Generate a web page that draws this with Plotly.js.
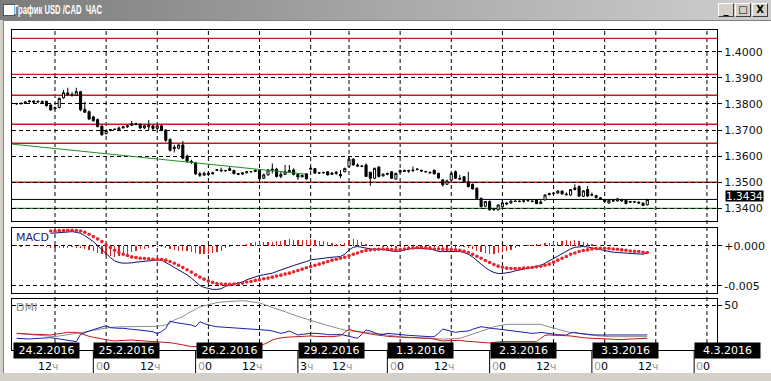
<!DOCTYPE html>
<html><head><meta charset="utf-8">
<script src="https://cdn.plot.ly/plotly-3.0.1.min.js"></script>
<style>
html,body{margin:0;padding:0;width:771px;height:381px;overflow:hidden;background:#d4d0c8;}
#tbar{position:absolute;left:0;top:0;width:771px;height:20px;background:linear-gradient(to right,#7c7c7c,#a8a8a8 50%,#cfcfcf);}
#icon{position:absolute;left:3px;top:4px;width:10px;height:10px;background:#fff;border:1px solid #556;}
.btn{position:absolute;top:3px;width:14px;height:12px;background:#d4d0c8;border:1px solid;border-color:#fff #404040 #404040 #fff;font:bold 10px 'DejaVu Sans';line-height:12px;text-align:center;color:#000;}
#client{position:absolute;left:3px;top:20px;width:767px;height:352px;background:#fff;border-left:1px solid #808080;border-top:1px solid #808080;}
#chart{position:absolute;left:0;top:0;width:771px;height:381px;}
</style></head>
<body>
<div id="tbar"><div id="icon"></div>
<div class="btn" style="left:718px">_</div><div class="btn" style="left:735px">□</div><div class="btn" style="left:752px">X</div></div>
<div id="client"></div>
<div id="chart"></div>
<script>
// ---- data ----
const firstBar = -9; // bar index of the first candle (index 0 = 24.2 12:00)
const open = [1.3800,1.3801,1.3802,1.3808,1.3811,1.3807,1.3810,1.3810,1.3796,1.3781,
1.3786,1.3823,1.3842,1.3836,1.3833,1.3847,1.3779,1.3770,1.3750,1.3740,
1.3715,1.3686,1.3698,1.3702,1.3701,1.3708,1.3712,1.3718,1.3724,1.3722,
1.3708,1.3712,1.3716,1.3706,1.3716,1.3700,1.3664,1.3628,1.3630,1.3643,
1.3600,1.3580,1.3574,1.3532,1.3527,1.3534,1.3532,1.3545,1.3546,1.3544,
1.3545,1.3545,1.3533,1.3531,1.3536,1.3540,1.3541,1.3546,1.3515,1.3528,
1.3545,1.3550,1.3522,1.3530,1.3540,1.3547,1.3530,1.3520,1.3532,1.3550,
1.3552,1.3535,1.3536,1.3540,1.3530,1.3534,1.3530,1.3540,1.3560,1.3588,
1.3566,1.3562,1.3566,1.3538,1.3515,1.3558,1.3524,1.3530,1.3540,1.3512,
1.3538,1.3545,1.3542,1.3544,1.3548,1.3546,1.3541,1.3538,1.3546,1.3534,
1.3509,1.3492,1.3508,1.3540,1.3515,1.3521,1.3502,1.3492,1.3477,1.3438,
1.3408,1.3426,1.3398,1.3394,1.3406,1.3416,1.3420,1.3428,1.3426,1.3427,
1.3429,1.3428,1.3432,1.3418,1.3432,1.3452,1.3456,1.3458,1.3466,1.3455,
1.3451,1.3472,1.3483,1.3446,1.3472,1.3450,1.3448,1.3440,1.3434,1.3420,
1.3430,1.3428,1.3434,1.3431,1.3423,1.3425,1.3424,1.3420,1.3413];
const high = [1.3804,1.3806,1.3810,1.3815,1.3813,1.3812,1.3812,1.3812,1.3798,1.3790,
1.3825,1.3853,1.3862,1.3845,1.3862,1.3850,1.3808,1.3775,1.3755,1.3744,
1.3718,1.3700,1.3704,1.3705,1.3713,1.3716,1.3720,1.3735,1.3728,1.3726,
1.3720,1.3738,1.3718,1.3722,1.3720,1.3703,1.3668,1.3643,1.3645,1.3658,
1.3606,1.3586,1.3578,1.3540,1.3540,1.3542,1.3540,1.3550,1.3556,1.3547,
1.3560,1.3548,1.3535,1.3538,1.3543,1.3543,1.3548,1.3549,1.3534,1.3550,
1.3572,1.3555,1.3540,1.3566,1.3566,1.3553,1.3534,1.3530,1.3534,1.3560,
1.3554,1.3538,1.3540,1.3542,1.3538,1.3542,1.3547,1.3555,1.3598,1.3592,
1.3572,1.3566,1.3572,1.3540,1.3556,1.3562,1.3534,1.3537,1.3543,1.3536,
1.3548,1.3548,1.3548,1.3560,1.3553,1.3547,1.3543,1.3540,1.3548,1.3536,
1.3512,1.3510,1.3538,1.3545,1.3528,1.3524,1.3540,1.3495,1.3480,1.3441,
1.3428,1.3430,1.3402,1.3414,1.3432,1.3422,1.3430,1.3431,1.3430,1.3431,
1.3434,1.3430,1.3434,1.3434,1.3454,1.3460,1.3462,1.3470,1.3468,1.3461,
1.3474,1.3492,1.3489,1.3470,1.3485,1.3460,1.3452,1.3442,1.3436,1.3433,
1.3433,1.3440,1.3436,1.3433,1.3428,1.3428,1.3426,1.3422,1.3436];
const low = [1.3797,1.3797,1.3800,1.3805,1.3804,1.3803,1.3804,1.3790,1.3774,1.3778,
1.3783,1.3820,1.3832,1.3828,1.3830,1.3772,1.3766,1.3738,1.3732,1.3710,
1.3678,1.3683,1.3695,1.3700,1.3697,1.3706,1.3708,1.3715,1.3718,1.3703,
1.3704,1.3700,1.3700,1.3704,1.3695,1.3655,1.3618,1.3614,1.3626,1.3588,
1.3576,1.3570,1.3528,1.3520,1.3526,1.3523,1.3530,1.3544,1.3540,1.3540,
1.3544,1.3530,1.3527,1.3528,1.3534,1.3536,1.3538,1.3510,1.3512,1.3526,
1.3533,1.3518,1.3515,1.3528,1.3538,1.3526,1.3509,1.3520,1.3510,1.3545,
1.3532,1.3532,1.3532,1.3526,1.3527,1.3528,1.3515,1.3538,1.3556,1.3564,
1.3560,1.3558,1.3520,1.3486,1.3512,1.3518,1.3522,1.3527,1.3512,1.3510,
1.3536,1.3539,1.3536,1.3540,1.3546,1.3540,1.3538,1.3534,1.3530,1.3513,
1.3483,1.3490,1.3505,1.3512,1.3508,1.3500,1.3480,1.3472,1.3436,1.3404,
1.3404,1.3392,1.3390,1.3392,1.3404,1.3412,1.3418,1.3424,1.3423,1.3421,
1.3425,1.3424,1.3416,1.3416,1.3430,1.3450,1.3452,1.3456,1.3453,1.3450,
1.3449,1.3468,1.3443,1.3443,1.3443,1.3446,1.3438,1.3432,1.3423,1.3418,
1.3426,1.3426,1.3425,1.3416,1.3421,1.3421,1.3418,1.3409,1.3411];
const close = [1.3801,1.3802,1.3808,1.3811,1.3807,1.3810,1.3806,1.3793,1.3777,1.3786,
1.3821,1.3843,1.3836,1.3832,1.3847,1.3777,1.3768,1.3742,1.3735,1.3713,
1.3682,1.3698,1.3702,1.3703,1.3708,1.3712,1.3716,1.3724,1.3722,1.3708,
1.3716,1.3718,1.3706,1.3716,1.3698,1.3660,1.3622,1.3634,1.3643,1.3592,
1.3580,1.3576,1.3532,1.3527,1.3534,1.3530,1.3536,1.3548,1.3544,1.3545,
1.3552,1.3533,1.3530,1.3536,1.3540,1.3541,1.3546,1.3513,1.3528,1.3547,
1.3550,1.3522,1.3530,1.3540,1.3545,1.3530,1.3520,1.3526,1.3513,1.3553,
1.3535,1.3536,1.3537,1.3528,1.3535,1.3538,1.3525,1.3553,1.3588,1.3566,
1.3562,1.3561,1.3522,1.3515,1.3553,1.3522,1.3530,1.3533,1.3515,1.3534,
1.3545,1.3542,1.3544,1.3546,1.3550,1.3543,1.3540,1.3536,1.3532,1.3516,
1.3490,1.3505,1.3534,1.3515,1.3512,1.3502,1.3483,1.3474,1.3438,1.3406,
1.3426,1.3394,1.3396,1.3413,1.3421,1.3420,1.3428,1.3426,1.3427,1.3429,
1.3431,1.3426,1.3418,1.3424,1.3451,1.3456,1.3458,1.3466,1.3455,1.3452,
1.3472,1.3478,1.3447,1.3467,1.3447,1.3453,1.3441,1.3435,1.3426,1.3431,
1.3428,1.3436,1.3428,1.3418,1.3426,1.3424,1.3420,1.3411,1.3434];

const redLevels = [1.4051, 1.3913, 1.3833, 1.3722, 1.3649, 1.3500];
const lastPrice = 1.3434;
const greenLevel = 1.3400;
const trendX = [-10.1, 58.7];
const trendY = [1.3646, 1.3531];
const priceTicks = [1.34, 1.35, 1.36, 1.37, 1.38, 1.39, 1.40];

const macdFirstBar = -1;
const macd = [0.00158,0.00163,0.00167,0.00171,0.00175,0.00179,0.00171,0.00158,0.00129,0.00096,
0.00054,0.00004,-0.00050,-0.00104,-0.00146,-0.00188,-0.00208,-0.00217,-0.00217,-0.00213,
-0.00204,-0.00196,-0.00192,-0.00188,-0.00183,-0.00175,-0.00179,-0.00204,-0.00238,-0.00271,
-0.00300,-0.00329,-0.00363,-0.00404,-0.00454,-0.00496,-0.00521,-0.00538,-0.00546,-0.00546,
-0.00538,-0.00508,-0.00496,-0.00479,-0.00467,-0.00454,-0.00425,-0.00404,-0.00383,-0.00371,
-0.00363,-0.00354,-0.00342,-0.00321,-0.00300,-0.00279,-0.00258,-0.00246,-0.00229,-0.00217,
-0.00196,-0.00175,-0.00167,-0.00163,-0.00154,-0.00146,-0.00142,-0.00138,-0.00133,-0.00104,
-0.00050,-0.00017,-0.00008,-0.00017,-0.00029,-0.00038,-0.00042,-0.00038,-0.00046,-0.00054,
-0.00063,-0.00071,-0.00063,-0.00050,-0.00038,-0.00029,-0.00029,-0.00029,-0.00033,-0.00038,
-0.00050,-0.00071,-0.00071,-0.00071,-0.00071,-0.00071,-0.00071,-0.00083,-0.00104,-0.00138,
-0.00188,-0.00229,-0.00271,-0.00308,-0.00333,-0.00346,-0.00346,-0.00342,-0.00329,-0.00313,
-0.00300,-0.00288,-0.00279,-0.00271,-0.00263,-0.00246,-0.00217,-0.00188,-0.00154,-0.00125,
-0.00096,-0.00063,-0.00038,-0.00017,-0.00008,-0.00008,-0.00013,-0.00021,-0.00033,-0.00046,
-0.00058,-0.00071,-0.00079,-0.00083,-0.00088,-0.00088,-0.00092,-0.00096,-0.00100,-0.00104,-0.00088];
const signal = [0.00188,0.00188,0.00192,0.00192,0.00196,0.00196,0.00192,0.00188,0.00171,0.00146,
0.00117,0.00088,0.00054,0.00013,-0.00021,-0.00054,-0.00083,-0.00104,-0.00121,-0.00138,
-0.00146,-0.00154,-0.00158,-0.00163,-0.00167,-0.00167,-0.00171,-0.00179,-0.00196,-0.00217,
-0.00242,-0.00271,-0.00300,-0.00329,-0.00363,-0.00392,-0.00417,-0.00442,-0.00458,-0.00471,
-0.00479,-0.00483,-0.00483,-0.00479,-0.00475,-0.00467,-0.00454,-0.00446,-0.00433,-0.00425,
-0.00413,-0.00404,-0.00392,-0.00379,-0.00367,-0.00354,-0.00342,-0.00325,-0.00308,-0.00292,
-0.00275,-0.00258,-0.00242,-0.00229,-0.00213,-0.00196,-0.00179,-0.00167,-0.00154,-0.00142,
-0.00125,-0.00104,-0.00088,-0.00071,-0.00058,-0.00050,-0.00046,-0.00042,-0.00038,-0.00038,
-0.00046,-0.00050,-0.00046,-0.00038,-0.00029,-0.00025,-0.00021,-0.00021,-0.00025,-0.00029,
-0.00038,-0.00038,-0.00042,-0.00046,-0.00046,-0.00050,-0.00054,-0.00067,-0.00083,-0.00104,
-0.00129,-0.00154,-0.00183,-0.00208,-0.00233,-0.00254,-0.00267,-0.00279,-0.00283,-0.00283,
-0.00283,-0.00279,-0.00275,-0.00271,-0.00263,-0.00254,-0.00242,-0.00229,-0.00204,-0.00179,
-0.00154,-0.00133,-0.00104,-0.00088,-0.00071,-0.00058,-0.00050,-0.00038,-0.00033,-0.00029,
-0.00029,-0.00033,-0.00038,-0.00042,-0.00050,-0.00054,-0.00063,-0.00067,-0.00071,-0.00079,-0.00083];
const hist = [0.00008,-0.00008,0.00010,-0.00006,0.00008,0.00010,-0.00005,-0.00010,-0.00030,-0.00025,
-0.00025,-0.00021,-0.00021,-0.00017,-0.00021,-0.00030,-0.00042,-0.00050,-0.00063,-0.00084,
-0.00104,-0.00117,-0.00125,-0.00134,-0.00125,-0.00113,-0.00096,-0.00075,-0.00058,-0.00042,
-0.00034,-0.00025,-0.00016,-0.00008,-0.00008,-0.00025,-0.00042,-0.00054,-0.00058,-0.00058,
-0.00063,-0.00075,-0.00091,-0.00104,-0.00104,-0.00096,-0.00088,-0.00075,-0.00059,-0.00025,
-0.00013,0,0.00008,0.00013,0.00029,0.00042,0.00050,0.00054,0.00050,0.00050,
0.00050,0.00058,0.00067,0.00075,0.00084,0.00079,0.00079,0.00075,0.00079,0.00083,
0.00075,0.00066,0.00059,0.00050,0.00037,0.00029,0.00021,0.00038,0.00075,0.00087,
0.00080,0.00054,0.00029,0.00012,0.00004,0.00004,-0.00008,-0.00016,-0.00017,-0.00021,
-0.00017,-0.00012,-0.00009,-0.00004,-0.00008,-0.00008,-0.00008,-0.00009,-0.00012,-0.00033,
-0.00029,-0.00025,-0.00025,-0.00021,-0.00017,-0.00016,-0.00021,-0.00034,-0.00059,-0.00075,
-0.00088,-0.00100,-0.00100,-0.00092,-0.00079,-0.00063,-0.00046,-0.00030,-0.00017,0.00008,
0.00012,0.00016,0.00020,0.00025,0.00033,0.00041,0.00050,0.00054,0.00058,0.00070,
0.00066,0.00071,0.00063,0.00050,0.00037,0.00025,0.00012,0.00008,0.00004,-0.00004,
-0.00004,-0.00004,-0.00004,-0.00004,-0.00004,-0.00004,-0.00004,-0.00004,-0.00004];

const adx = [18.5,18.1,17.8,17.4,16.7,16.3,15.9,15.6,15.2,14.8,
15.6,16.3,17.4,17.8,18.5,18.9,19.6,20.7,21.9,23.0,
24.1,24.4,25.2,25.6,25.9,25.9,25.9,25.9,25.9,25.9,
25.9,25.9,25.9,26.3,27.0,27.8,30.0,33.3,35.2,37.0,
40.4,42.6,45.2,48.1,49.3,50.4,51.9,52.6,53.3,53.7,
54.1,54.4,54.8,54.8,54.4,53.7,53.0,52.2,50.7,49.3,
47.4,45.6,44.4,42.6,40.7,38.9,37.0,35.9,34.4,33.3,
31.5,30.0,28.5,27.0,25.9,24.4,23.3,22.2,21.1,20.7,
20.4,20.0,19.6,19.3,18.9,18.1,17.4,16.7,15.9,15.2,
14.8,14.4,14.1,13.7,13.3,13.0,12.6,12.6,12.2,12.2,
12.2,12.2,12.2,12.2,13.0,14.4,15.9,17.4,18.9,20.4,
22.2,24.1,25.9,27.0,27.8,28.5,28.5,28.5,28.5,28.5,
28.5,28.5,28.5,28.5,27.0,25.6,24.1,23.0,21.9,20.4,
19.6,18.9,18.1,17.8,17.4,16.7,15.9,15.6,14.8,14.8,
14.8,14.8,14.8,14.8,14.8,14.8,14.8,14.8,14.8];
const plusDI = [13.0,12.6,12.2,12.2,12.6,13.0,13.3,13.3,13.7,13.0,
12.2,11.5,10.7,10.0,9.3,17.4,19.6,21.1,22.6,24.1,
25.6,27.0,24.8,24.1,24.1,24.1,23.3,23.0,22.6,22.2,
21.5,21.1,20.4,18.1,20.4,24.1,32.2,30.7,29.6,29.3,
28.5,27.8,25.9,31.5,29.3,27.8,26.7,25.9,25.6,25.2,
25.2,24.8,24.8,24.4,24.1,23.7,23.3,22.6,22.2,21.9,
21.1,20.0,18.5,19.6,21.1,18.9,16.7,17.4,18.1,18.5,
18.5,18.5,17.8,17.0,16.7,17.0,17.4,16.3,14.8,14.1,
13.0,17.4,22.2,21.1,19.3,17.4,17.4,18.5,18.1,17.4,
17.0,16.7,16.3,15.9,15.2,14.8,14.8,14.8,14.8,18.5,
23.3,21.9,20.4,19.6,20.4,20.7,21.1,23.0,24.8,25.9,
25.2,24.1,23.7,23.3,22.6,22.2,21.5,20.7,20.4,19.6,
18.9,18.5,18.9,19.6,18.9,18.1,17.4,17.0,16.7,16.7,
18.9,19.6,18.5,17.8,17.4,17.0,16.7,16.7,17.0,17.4,
17.4,17.4,17.4,17.4,17.4,17.4,17.0,16.7,16.7];
const minusDI = [18.5,18.1,17.8,17.8,17.4,17.4,17.0,16.7,16.7,17.4,
18.1,19.3,19.6,19.6,19.6,18.5,16.7,15.2,14.1,13.0,
12.2,11.5,10.7,10.0,10.4,10.7,11.1,11.1,10.7,10.4,
10.4,10.0,9.6,9.3,8.9,8.5,8.1,7.4,6.7,6.3,
4.8,3.7,3.7,3.7,3.7,3.7,3.7,3.7,4.1,4.4,
4.8,4.8,4.4,4.4,4.4,4.8,5.2,5.6,6.3,8.5,
11.1,12.6,13.7,14.1,14.4,14.8,15.2,15.6,15.9,15.6,
15.2,14.8,14.8,14.8,14.8,15.2,15.9,19.6,23.0,21.5,
20.4,19.3,18.5,17.8,17.0,16.7,15.9,15.2,14.8,14.4,
14.1,14.1,13.7,13.7,13.3,13.3,13.0,13.0,11.9,10.7,
10.0,10.4,10.7,11.1,10.7,10.0,9.6,9.3,8.5,7.8,
7.4,7.8,8.5,9.3,9.3,9.3,9.3,9.3,9.3,9.3,
9.3,9.3,9.3,13.0,16.3,16.7,16.7,16.3,16.3,15.9,
15.6,14.8,14.1,13.7,13.3,13.0,12.6,12.6,12.2,11.9,
11.5,11.1,11.5,11.9,12.2,12.2,12.6,13.0,13.0];

const gridBars = [0,12,24,36,48,60,69,81,93,105,117,129,141,153];
const hourLabels = ['12ч','00','12ч','00','12ч','3ч','12ч','00','12ч','00','12ч','00','12ч','00'];
const dayStartBars = [-9.85, 9, 33, 57, 78, 102, 126, 150];
const dayLabels = ['24.2.2016','25.2.2016','26.2.2016','29.2.2016','1.3.2016','2.3.2016','3.3.2016','4.3.2016'];

// ---- build ----
const xs = open.map((_, i) => firstBar + i);
const xm = macd.map((_, i) => macdFirstBar + i);
const FONT = 'DejaVu Sans, Verdana, sans-serif';
const dash = '4px,3px';

const traces = [
  {type:'candlestick', x:xs, open:open, high:high, low:low, close:close, xaxis:'x', yaxis:'y',
   increasing:{line:{color:'#000',width:1}, fillcolor:'#ffffff'},
   decreasing:{line:{color:'#000',width:1}, fillcolor:'#000000'},
   whiskerwidth:0, hoverinfo:'skip', showlegend:false},
  {type:'scatter', mode:'lines', x:trendX, y:trendY, xaxis:'x', yaxis:'y',
   line:{color:'#1f8f1f', width:1}, hoverinfo:'skip'},
  {type:'bar', x:xs, y:hist, xaxis:'x', yaxis:'y2', width:0.3,
   marker:{color:'#d42424', line:{width:0}}, hoverinfo:'skip'},
  {type:'scatter', mode:'lines', x:xm, y:macd, xaxis:'x', yaxis:'y2',
   line:{color:'#10106e', width:1}, hoverinfo:'skip'},
  {type:'scatter', mode:'markers', x:xm, y:signal, xaxis:'x', yaxis:'y2',
   marker:{color:'#e8232b', size:3.6}, hoverinfo:'skip'},
  {type:'scatter', mode:'lines', x:xs, y:adx, xaxis:'x', yaxis:'y3',
   line:{color:'#8c8c8c', width:1}, hoverinfo:'skip'},
  {type:'scatter', mode:'lines', x:xs, y:plusDI, xaxis:'x', yaxis:'y3',
   line:{color:'#1c1cb4', width:1}, hoverinfo:'skip'},
  {type:'scatter', mode:'lines', x:xs, y:minusDI, xaxis:'x', yaxis:'y3',
   line:{color:'#c01818', width:1}, hoverinfo:'skip'}
];

const shapes = [];
// vertical time grid, running through all three panels
gridBars.forEach(b => shapes.push({type:'line', xref:'x', x0:b, x1:b, yref:'paper', y0:0, y1:1,
  layer:'below', line:{color:'#000', width:1, dash:dash}}));
redLevels.forEach(v => shapes.push({type:'line', xref:'paper', x0:0, x1:1, yref:'y', y0:v, y1:v,
  layer:'between', line:{color:'#c41c1c', width:1.4}}));
shapes.push({type:'line', xref:'paper', x0:0, x1:1, yref:'y', y0:lastPrice, y1:lastPrice, layer:'between', line:{color:'#000', width:1}});
shapes.push({type:'line', xref:'paper', x0:0, x1:1, yref:'y', y0:greenLevel, y1:greenLevel, layer:'between', line:{color:'#1f8f1f', width:1.2}});
dayStartBars.slice(1).forEach(b => shapes.push({type:'line', xref:'x', x0:b, x1:b, yref:'paper', y0:0, y1:-0.072,
  line:{color:'#000', width:1}}));

const annotations = [];
dayStartBars.forEach((b, i) => annotations.push({xref:'x', x:b, xanchor:'left', yref:'paper', y:-0.002, yanchor:'middle',
  text:dayLabels[i], showarrow:false, bgcolor:'#000', font:{family:FONT, size:11, color:'#fff'},
  width:61, height:11, borderpad:2, align:'center'}));
gridBars.forEach((b, i) => {
  const t = hourLabels[i].replace('ч', '<span style="color:#9a9a9a">ч</span>').replace(/^0/, '<span style="color:#9a9a9a">0</span>');
  annotations.push({xref:'x', x:b + 1.3, xanchor:'right', yref:'paper', y:-0.053, yanchor:'middle',
    text:t, showarrow:false, font:{family:FONT, size:11, color:'#000'}});
});
annotations.push({xref:'paper', x:1, xanchor:'left', xshift:8, yref:'y', y:lastPrice, yanchor:'middle', yshift:3,
  text:lastPrice.toFixed(4), showarrow:false, bgcolor:'#000', borderpad:0, height:10, font:{family:FONT, size:10.5, color:'#fff'}});
annotations.push({xref:'paper', x:0, xanchor:'left', xshift:2, yref:'y2 domain', y:1, yanchor:'top', yshift:-1,
  text:'MACD', showarrow:false, font:{family:FONT, size:11, color:'#1a1a7a'}});
annotations.push({xref:'paper', x:0, xanchor:'left', xshift:2, yref:'y3 domain', y:1, yanchor:'top', yshift:0,
  text:'DMI', showarrow:false, font:{family:FONT, size:11, color:'#8a8a8a'}});

const yBase = {side:'right', showline:true, linecolor:'#000', linewidth:1, mirror:true, zeroline:false,
  ticks:'outside', ticklen:4, tickcolor:'#000', tickfont:{family:FONT, size:11, color:'#111'},
  showgrid:true, gridcolor:'#000', gridwidth:1, griddash:dash, fixedrange:true};

const layout = {
  width:771, height:381, margin:{l:12, r:54, t:30, b:31, pad:0},
  paper_bgcolor:'rgba(0,0,0,0)', plot_bgcolor:'#ffffff', showlegend:false,
  title:{text:'График USD /CAD \u00a0ЧАС', x:14/771, xanchor:'left', xref:'container',
    y:1 - 10/381, yanchor:'middle', yref:'container', pad:{t:0,b:0,l:0,r:0},
    font:{family:"'Liberation Sans', sans-serif", size:12, color:'#ffffff', weight:'bold'}},
  xaxis:{range:[-10.09, 155.36], tickvals:gridBars, showticklabels:false, ticks:'', showgrid:false,
    showline:true, linecolor:'#000', mirror:'all',
    zeroline:false, anchor:'y3', rangeslider:{visible:false}, fixedrange:true},
  yaxis:Object.assign({}, yBase, {domain:[0.4031, 1], range:[1.335134, 1.408314], tickvals:priceTicks, tickformat:'.4f'}),
  yaxis2:Object.assign({}, yBase, {domain:[0.1781, 0.3828], range:[-0.0059125, 0.0023125], tickvals:[0, -0.005], ticktext:['+0.000','-0.005']}),
  yaxis3:Object.assign({}, yBase, {domain:[0, 0.1584], range:[0, 56.33], tickvals:[50], ticktext:['50']}),
  shapes:shapes, annotations:annotations, bargap:0
};

Plotly.newPlot('chart', traces, layout, {displayModeBar:false, staticPlot:true}).then(() => {
  // the original caption uses a condensed face: squeeze the title glyphs to its width
  const t = document.querySelector('.gtitle');
  if (t) { t.setAttribute('textLength', '88'); t.setAttribute('lengthAdjust', 'spacingAndGlyphs'); }
});
</script>
</body></html>
